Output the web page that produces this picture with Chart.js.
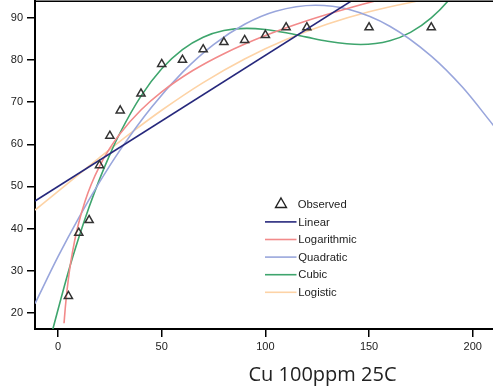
<!DOCTYPE html>
<html>
<head>
<meta charset="utf-8">
<script src="https://cdn.jsdelivr.net/npm/chart.js@4/dist/chart.umd.min.js"></script>
<style>
  html, body { margin: 0; padding: 0; background: #fff; overflow: hidden; }
  #wrap { width: 493px; height: 387px; overflow: hidden; position: relative; }
  canvas { display: block; }
</style>
</head>
<body>
<div id="wrap"><canvas id="c" width="610" height="387"></canvas></div>
<script>
// ---- data ----
const axisTitle = 'Cu 100ppm 25C';
const xTickValues = [0, 50, 100, 150, 200];
const yTickValues = [20, 30, 40, 50, 60, 70, 80, 90];

const seriesNames = ['Observed', 'Linear', 'Logarithmic', 'Quadratic', 'Cubic', 'Logistic'];

const obsX = [5, 10, 15, 20, 25, 30, 40, 50, 60, 70, 80, 90, 100, 110, 120, 150, 180];
const obsY = [24, 39, 42, 55, 62, 68, 72, 79, 80, 82.5, 84.2, 84.7, 85.9, 87.7, 87.7, 87.7, 87.7];

const linearX = [-11.1, 210];
const linearY = [46.56, 115.28];

const logX = [2.9, 3.5, 4, 5, 6, 8, 10, 13, 16, 20, 25, 30, 40, 50, 65, 80, 100, 120, 140, 160, 185, 210];
const logY = [17.55, 21.18, 23.75, 28.05, 31.56, 37.11, 41.41, 46.46, 50.47, 54.77, 59.07, 62.58, 68.12, 72.42, 77.48, 81.48, 85.78, 89.30, 92.27, 94.84, 97.64, 100.08];

const quadX = [-11.1, 0, 10, 20, 30, 45, 60, 75, 90, 105, 124.2, 140, 160, 180, 195, 210];
const quadY = [22.22, 33.35, 42.57, 51.01, 58.68, 68.74, 77.05, 83.63, 88.46, 91.55, 92.97, 92.00, 88.00, 80.91, 73.56, 64.47];

const cubicX = [-3, 5, 10, 15, 20, 25, 30, 40, 50, 60, 70, 80, 91, 100, 110, 120, 130, 146, 160, 170, 180, 190, 200, 210];
const cubicY = [15.27, 29.79, 37.83, 45.11, 51.68, 57.56, 62.79, 71.43, 77.90, 82.45, 85.39, 86.97, 87.49, 87.21, 86.43, 85.41, 84.43, 83.66, 84.55, 86.54, 89.96, 95.10, 102.23, 111.64];

const logisticX = [-11.1, 0, 10, 20, 35, 50, 70, 90, 110, 130, 150, 170, 190, 210];
const logisticY = [44.39, 48.82, 52.84, 56.82, 62.62, 68.07, 74.63, 80.23, 84.84, 88.53, 91.42, 93.63, 95.30, 96.55];

// ---- styles ----
const colors = {
  Observed: '#333333',
  Linear: '#26287c',
  Logarithmic: '#f28a8a',
  Quadratic: '#99a6dc',
  Cubic: '#3ea56d',
  Logistic: '#fdd3a6'
};

const pts = (xs, ys) => xs.map((x, i) => ({ x: x, y: ys[i] }));

function curve(name, xs, ys) {
  return {
    label: name,
    data: pts(xs, ys),
    showLine: true,
    borderColor: colors[name],
    backgroundColor: colors[name],
    borderWidth: 1.6,
    pointRadius: 0,
    pointHoverRadius: 0,
    fill: false,
    cubicInterpolationMode: 'monotone'
  };
}

const tickFont = { family: "Arial, 'Liberation Sans', sans-serif", size: 11 };

const legendPlugin = {
  id: 'insideLegend',
  afterDraw(chart) {
    const ctx = chart.ctx;
    const rows = [204.3, 221.9, 239.5, 257.1, 274.7, 292.3];
    ctx.save();
    // top frame line
    const ca = chart.chartArea;
    ctx.beginPath();
    ctx.moveTo(ca.left - 1, ca.top);
    ctx.lineTo(ca.right, ca.top);
    ctx.strokeStyle = '#000';
    ctx.lineWidth = 1.5;
    ctx.stroke();

    ctx.font = "11.3px Arial, 'Liberation Sans', sans-serif";
    ctx.textBaseline = 'middle';
    ctx.textAlign = 'left';
    chart.data.datasets.forEach((ds, i) => {
      const y = rows[i];
      if (i === 0) {
        const r = 6.3, cx = 281;
        ctx.beginPath();
        ctx.moveTo(cx, y - r);
        ctx.lineTo(cx + r * Math.sin(2 * Math.PI / 3), y - r * Math.cos(2 * Math.PI / 3));
        ctx.lineTo(cx + r * Math.sin(4 * Math.PI / 3), y - r * Math.cos(4 * Math.PI / 3));
        ctx.closePath();
        ctx.strokeStyle = '#222';
        ctx.lineWidth = 1.4;
        ctx.stroke();
        ctx.fillStyle = '#222';
        ctx.fillText(ds.label, 297.7, y + 0.5);
      } else {
        ctx.beginPath();
        ctx.moveTo(265, y);
        ctx.lineTo(296.5, y);
        ctx.strokeStyle = ds.borderColor;
        ctx.lineWidth = 1.6;
        ctx.stroke();
        ctx.fillStyle = '#222';
        ctx.fillText(ds.label, 298.3, y + 0.5);
      }
    });
    ctx.restore();
  }
};

const whiteBg = {
  id: 'whiteBg',
  beforeDraw(chart) {
    const ctx = chart.ctx;
    ctx.save();
    ctx.fillStyle = '#fff';
    ctx.fillRect(0, 0, chart.width, chart.height);
    ctx.restore();
  }
};

function noPad(s) {
  s.paddingTop = 0; s.paddingBottom = 0; s.paddingLeft = 0; s.paddingRight = 0;
}

new Chart(document.getElementById('c'), {
  type: 'scatter',
  data: {
    datasets: [
      {
        label: seriesNames[0],
        data: pts(obsX, obsY),
        showLine: false,
        pointStyle: 'triangle',
        pointRadius: 4.7,
        pointHoverRadius: 4.7,
        pointBorderWidth: 1.5,
        borderColor: colors.Observed,
        backgroundColor: 'rgba(0,0,0,0)'
      },
      curve(seriesNames[1], linearX, linearY),
      curve(seriesNames[2], logX, logY),
      curve(seriesNames[3], quadX, quadY),
      curve(seriesNames[4], cubicX, cubicY),
      curve(seriesNames[5], logisticX, logisticY)
    ]
  },
  options: {
    responsive: false,
    animation: false,
    devicePixelRatio: 1,
    layout: { autoPadding: false, padding: { top: 1.3, left: 0, right: 0, bottom: 0 } },
    plugins: {
      legend: { display: false },
      tooltip: { enabled: false }
    },
    scales: {
      x: {
        type: 'linear',
        position: 'bottom',
        min: -11.1,
        max: 266.2,
        afterBuildTicks: s => { s.ticks = xTickValues.map(v => ({ value: v })); },
        afterFit: s => { s.height = 58; noPad(s); },
        grid: { drawOnChartArea: false, drawTicks: true, tickLength: 8, color: '#000', lineWidth: 1.5 },
        border: { display: true, color: '#000', width: 2 },
        ticks: { font: tickFont, color: '#222', padding: 3, maxRotation: 0, autoSkip: false },
        title: {
          display: true,
          text: axisTitle,
          color: '#222',
          font: { family: "'Open Sans', sans-serif", size: 20, lineHeight: 1.2 },
          padding: { top: 0, bottom: 0 }
        }
      },
      y: {
        type: 'linear',
        position: 'left',
        min: 16.2,
        max: 93.9,
        afterBuildTicks: s => { s.ticks = yTickValues.map(v => ({ value: v })); },
        afterFit: s => { s.width = 35; noPad(s); },
        grid: { drawOnChartArea: false, drawTicks: true, tickLength: 8, color: '#000', lineWidth: 1.5 },
        border: { display: true, color: '#000', width: 2 },
        ticks: { font: tickFont, color: '#222', padding: 4, autoSkip: false }
      }
    }
  },
  plugins: [whiteBg, legendPlugin]
});
</script>
</body>
</html>
